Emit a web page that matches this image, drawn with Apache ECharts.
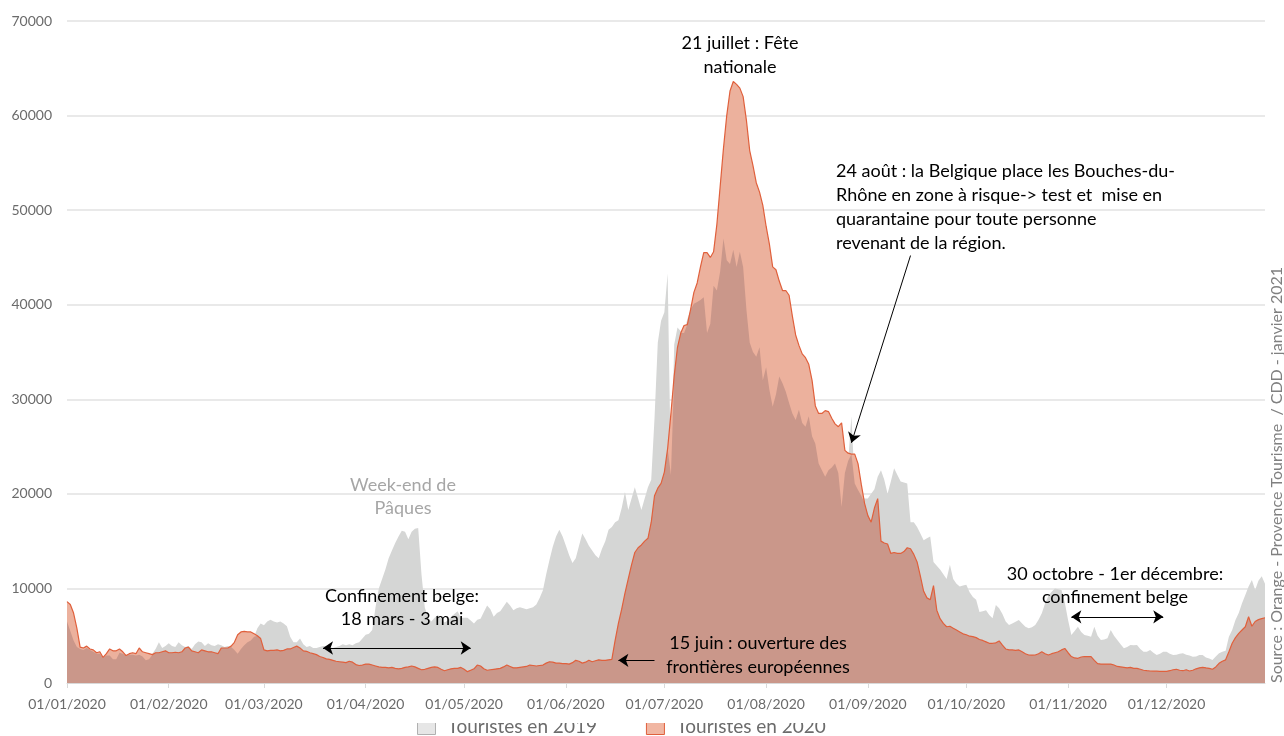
<!DOCTYPE html>
<html>
<head>
<meta charset="utf-8">
<title>Touristes belges 2019 / 2020</title>
<script src="https://cdn.jsdelivr.net/npm/echarts@6/dist/echarts.min.js"></script>
<style>
html, body { margin: 0; padding: 0; background: #fff; }
#chart { width: 1284px; height: 736px; }
</style>
</head>
<body>
<div id="chart"></div>
<script>
// valeurs journalières, une ligne par mois
const touristes2019 = [
  6500, 5500, 4500, 3800, 3600, 3500, 3700, 3500, 3300, 3100, 3100, 2800, 2900, 2900, 2500, 2500, 3200, 3100, 2900, 3000, 3000, 2900, 3000, 2800, 2400, 2500, 3100, 3600, 4300, 3700, 3900,
  4200, 3900, 3800, 4300, 4000, 3800, 3900, 3600, 4100, 4400, 4300, 3900, 4200, 4000, 3900, 4100, 4000, 3800, 3900, 3800, 3500, 3100, 3600, 4000, 4300, 4500, 4900, 5800, 6300,
  6100, 6500, 6700, 6500, 6400, 6500, 6300, 6000, 4900, 4300, 4300, 4700, 4100, 3800, 3900, 3700, 3700, 3800, 3900, 3900, 3800, 3700, 3800, 3900, 4100, 4000, 4100, 4000, 4200, 4300, 4700,
  5100, 5200, 5600, 8000, 10000, 11000, 12000, 13200, 14000, 14800, 15500, 16100, 16000, 15200, 16000, 16300, 16400, 11500, 8000, 6900, 6500, 6900, 7200, 6800, 6400, 6600, 7000, 7300, 7600, 6900,
  6900, 6900, 6600, 6300, 6700, 6800, 7500, 8200, 7800, 7000, 7400, 7600, 8100, 8600, 8200, 7700, 7900, 8000, 7900, 7800, 7900, 8000, 8300, 9000, 9800, 11500, 13000, 14400, 15500, 16200, 15500,
  14500, 13500, 12700, 13200, 14500, 15800, 15200, 14500, 14000, 13500, 13200, 14200, 15000, 16200, 16500, 17000, 17200, 18500, 20200, 18300, 19500, 20700, 19500, 18300, 19500, 20700, 21500, 28000, 36000, 38300,
  39200, 43300, 22000, 35800, 37600, 37200, 37000, 38500, 39500, 40100, 40300, 40500, 40800, 37000, 38000, 42000, 41500, 43500, 47000, 44700, 44300, 45800, 44000, 45600, 44000, 39500, 36000, 35000, 34500, 35500, 32000,
  33400, 31000, 29200, 30500, 32400, 31700, 30800, 29600, 28500, 27800, 28900, 27500, 27100, 28200, 26100, 25300, 23200, 22500, 21800, 22500, 22800, 23200, 22200, 18600, 22200, 23500, 28200, 21100, 20400, 19800, 19500,
  19500, 20000, 20500, 21800, 22500, 21500, 20000, 21300, 22700, 22000, 21300, 21200, 21100, 17000, 17000, 16500, 15800, 15100, 15300, 15500, 12800, 12400, 12000, 11500, 11000, 12500, 11000, 10500, 10200, 10300,
  10400, 9600, 9100, 8800, 7500, 7600, 7700, 7200, 6840, 8250, 7900, 7300, 6500, 6130, 6300, 6480, 6660, 6300, 5950, 5780, 5900, 6130, 6700, 7370, 8420, 9200, 9650, 10000, 9900, 9830, 8500,
  6660, 5070, 5500, 5950, 5400, 5070, 5000, 4900, 5950, 5000, 4550, 4600, 4720, 5600, 5000, 4550, 4100, 3670, 3800, 4020, 4000, 4020, 3600, 3300, 3300, 3490, 3200, 2960, 3100, 3300,
  3300, 3100, 2960, 3000, 3100, 3140, 3000, 2900, 2780, 2800, 2960, 2960, 2700, 2600, 2430, 2800, 3140, 3300, 3400, 4900, 5600, 6660, 7400, 8420, 9300, 10200, 10900, 9830, 10800, 11300, 10500
];

const touristes2020 = [
  8600, 8300, 7400, 5800, 3800, 3700, 3900, 3600, 3500, 3200, 3300, 2700, 3100, 3600, 3400, 3400, 3600, 3300, 2900, 3100, 3200, 3100, 3700, 3300, 3200, 3100, 3000, 3200, 3200, 3300, 3400,
  3200, 3200, 3250, 3200, 3300, 3700, 3800, 3400, 3300, 3200, 3500, 3400, 3300, 3300, 3200, 3100, 3700, 3700, 3700, 3900, 4300, 5100, 5400, 5450, 5400, 5400, 5200, 5000, 4700,
  3500, 3400, 3450, 3450, 3500, 3400, 3450, 3600, 3600, 3750, 3900, 3700, 3400, 3350, 3200, 3100, 3000, 2800, 2700, 2550, 2500, 2400, 2300, 2250, 2200, 2150, 2300, 2200, 1950, 1850, 1900,
  2000, 2000, 1900, 1800, 1700, 1650, 1650, 1600, 1650, 1550, 1500, 1550, 1650, 1700, 1800, 1700, 1550, 1400, 1450, 1550, 1650, 1700, 1650, 1450, 1300, 1400, 1500, 1550, 1550, 1650,
  1450, 1200, 1350, 1500, 1900, 1800, 1500, 1350, 1400, 1450, 1500, 1550, 1700, 1900, 1750, 1600, 1600, 1650, 1700, 1750, 1900, 1850, 1800, 1850, 1900, 2100, 2250, 2200, 2100, 2100, 2050,
  2050, 2000, 2150, 2400, 2300, 2100, 2200, 2400, 2250, 2350, 2450, 2400, 2400, 2450, 2500, 4500, 6300, 7800, 9500, 11000, 12500, 13800, 14300, 14600, 15000, 15300, 17000, 19800, 20600, 21100,
  22300, 24800, 28500, 32500, 35500, 37000, 37800, 37900, 39500, 41300, 42300, 44000, 45500, 45500, 45000, 45600, 48500, 52500, 56500, 60000, 62600, 63600, 63300, 62900, 62000, 59500, 56300, 54700, 52900, 51900, 50500,
  48300, 46400, 44000, 43700, 42500, 41500, 41500, 41000, 38800, 36800, 35700, 34800, 34400, 33700, 32000, 29300, 28500, 28500, 28800, 28700, 28000, 27400, 27100, 27500, 24600, 24300, 24200, 24200, 23200, 21000, 19000,
  17700, 17000, 18500, 19500, 15000, 14800, 14700, 13700, 13800, 13700, 13700, 13900, 14300, 14200, 13600, 12800, 11300, 9700, 9000, 8800, 10300, 7700, 6800, 6300, 5950, 6000, 5800, 5600, 5400, 5200,
  5100, 4950, 4900, 4800, 4600, 4500, 4350, 4200, 4200, 4250, 4450, 4000, 3600, 3500, 3500, 3450, 3500, 3300, 3100, 2960, 2950, 2960, 3100, 3300, 3100, 2960, 3100, 3200, 3300, 3500, 3650,
  3200, 2800, 2650, 2610, 2750, 2800, 2780, 2780, 2400, 2050, 2000, 2000, 2000, 2000, 1900, 1750, 1700, 1650, 1600, 1650, 1550, 1550, 1450, 1350, 1300, 1270, 1250, 1250, 1230, 1230,
  1230, 1300, 1400, 1450, 1350, 1300, 1400, 1270, 1350, 1500, 1600, 1660, 1600, 1550, 1450, 1700, 2080, 2300, 2450, 3300, 4200, 4800, 5250, 5600, 5950, 7000, 6000, 6500, 6700, 6800, 6900
];

const yMax = 70000;
const yStep = 10000;

// jours de l'année 2020 au format jj/mm/aaaa
const jours = [];
for (let d = new Date(2020, 0, 1); d.getFullYear() === 2020; d.setDate(d.getDate() + 1)) {
  jours.push(String(d.getDate()).padStart(2, '0') + '/' + String(d.getMonth() + 1).padStart(2, '0') + '/2020');
}

// partie commune aux deux années (zone plus foncée)
const commun = touristes2019.map((v, i) => Math.min(v, touristes2020[i]));

const debutMois = (idx, val) => val.startsWith('01/');
const police = 'Lato';

const chart = echarts.init(document.getElementById('chart'));

chart.setOption({
  animation: false,
  grid: { left: 67, right: 19, top: 21, bottom: 53 },
  legend: {
    left: 417,
    top: 717,
    padding: 0,
    itemGap: 49,
    itemWidth: 18,
    itemHeight: 16,
    textStyle: { fontSize: 19, fontFamily: police, color: '#6b6b6b', padding: [0, 0, 0, 7] },
    data: [
      { name: 'Touristes en 2019', icon: 'rect', itemStyle: { color: '#e6e6e6', borderColor: '#b0b0b0', borderWidth: 1 } },
      { name: 'Touristes en 2020', icon: 'rect', itemStyle: { color: '#f1b6a2', borderColor: '#e0603c', borderWidth: 1 } }
    ]
  },
  xAxis: {
    type: 'category',
    data: jours,
    boundaryGap: false,
    axisLine: { lineStyle: { color: '#d9d9d9' } },
    axisTick: { show: true, length: 5, interval: debutMois, lineStyle: { color: '#d9d9d9' } },
    axisLabel: { interval: debutMois, color: '#6b6b6b', fontSize: 14, fontFamily: police, margin: 14 },
    splitLine: { show: false }
  },
  yAxis: {
    type: 'value',
    min: 0,
    max: yMax,
    interval: yStep,
    axisLine: { show: false },
    axisTick: { show: false },
    axisLabel: { color: '#6b6b6b', fontSize: 14, fontFamily: police, margin: 15, formatter: v => String(v) },
    splitLine: { lineStyle: { color: '#e2e2e2', width: 1.5 } }
  },
  series: [
    {
      name: 'Touristes en 2019',
      type: 'line',
      data: touristes2019,
      symbol: 'none',
      z: 1,
      itemStyle: { color: '#d5d6d5' },
      lineStyle: { width: 0, opacity: 0 },
      areaStyle: { color: '#d5d6d5', opacity: 1 }
    },
    {
      name: 'Touristes en 2020',
      type: 'line',
      data: touristes2020,
      symbol: 'none',
      z: 2,
      itemStyle: { color: '#ecb19d' },
      lineStyle: { width: 0, opacity: 0 },
      areaStyle: { color: '#ecb19d', opacity: 1 }
    },
    {
      name: 'commun',
      type: 'line',
      data: commun,
      symbol: 'none',
      z: 3,
      itemStyle: { color: '#ca978a' },
      lineStyle: { width: 0, opacity: 0 },
      areaStyle: { color: '#ca978a', opacity: 1 }
    },
    {
      name: 'Touristes en 2020',
      type: 'line',
      data: touristes2020,
      symbol: 'none',
      z: 4,
      itemStyle: { color: '#e0603c' },
      lineStyle: { color: '#e0603c', width: 1.2 },
      markLine: {
        silent: true,
        animation: false,
        symbolSize: 10,
        label: { show: false },
        lineStyle: { color: '#000', width: 1, type: 'solid' },
        data: [
          [{ coord: [78, 3700], symbol: 'arrow' }, { coord: [123, 3700], symbol: 'arrow' }],
          [{ coord: [306, 7000], symbol: 'arrow' }, { coord: [334, 7000], symbol: 'arrow' }],
          [{ coord: [179, 2400], symbol: 'none' }, { coord: [168, 2400], symbol: 'arrow' }],
          [{ coord: [257, 45200], symbol: 'none' }, { coord: [239, 25400], symbol: 'arrow' }]
        ]
      }
    }
  ],
  graphic: [
    // cache le haut de la légende comme sur l'original
    { type: 'rect', z: 100, shape: { x: 400, y: 714, width: 500, height: 9 }, style: { fill: '#fff' } },
    { type: 'text', z: 100, x: 740, y: 31, style: { text: '21 juillet : Fête\nnationale', fontSize: 18, fontFamily: police, fill: '#000', align: 'center', verticalAlign: 'top', lineHeight: 24 } },
    { type: 'text', z: 100, x: 836, y: 159, style: { text: '24 août : la Belgique place les Bouches-du-\nRhône en zone à risque-> test et  mise en\nquarantaine pour toute personne\nrevenant de la région.', fontSize: 18, fontFamily: police, fill: '#000', align: 'left', verticalAlign: 'top', lineHeight: 24 } },
    { type: 'text', z: 100, x: 403, y: 474, style: { text: 'Week-end de\nPâques', fontSize: 18, fontFamily: police, fill: '#a6a6a6', align: 'center', verticalAlign: 'top', lineHeight: 23 } },
    { type: 'text', z: 100, x: 402, y: 585, style: { text: 'Confinement belge:\n18 mars - 3 mai', fontSize: 18, fontFamily: police, fill: '#000', align: 'center', verticalAlign: 'top', lineHeight: 23 } },
    { type: 'text', z: 100, x: 758, y: 631, style: { text: '15 juin : ouverture des\nfrontières européennes', fontSize: 18, fontFamily: police, fill: '#000', align: 'center', verticalAlign: 'top', lineHeight: 24 } },
    { type: 'text', z: 100, x: 1115, y: 563, style: { text: '30 octobre - 1er décembre:\nconfinement belge', fontSize: 18, fontFamily: police, fill: '#000', align: 'center', verticalAlign: 'top', lineHeight: 23 } },
    { type: 'text', z: 100, x: 1277, y: 475, rotation: Math.PI / 2, style: { text: 'Source : Orange - Provence Tourisme  / CDD - janvier 2021', fontSize: 16, fontFamily: police, fill: '#808080', align: 'center', verticalAlign: 'middle' } }
  ]
});
</script>
</body>
</html>
